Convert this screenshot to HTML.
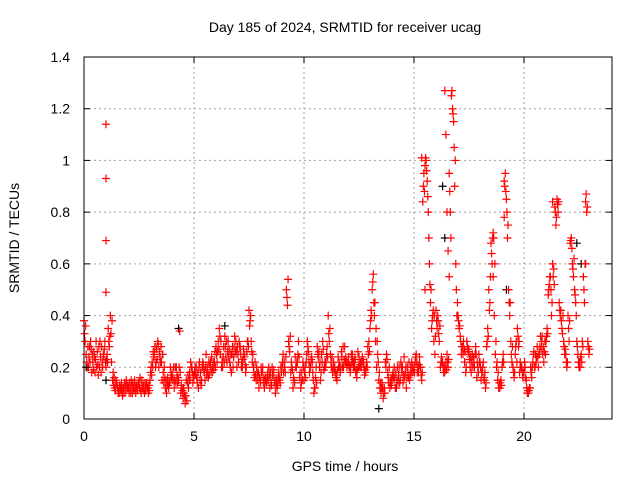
<!DOCTYPE html>
<html><head><meta charset="utf-8"><style>
body{margin:0;background:#fff;}
svg text{font-family:"Liberation Sans",sans-serif;font-size:14px;fill:#000;}
</style></head><body>
<svg id="chart" width="640" height="480" viewBox="0 0 640 480">
<rect width="640" height="480" fill="#fff"/>
<text x="345" y="32" text-anchor="middle">Day 185 of 2024, SRMTID for receiver ucag</text>
<text x="345" y="471" text-anchor="middle">GPS time / hours</text>
<text transform="translate(19,238) rotate(-90)" text-anchor="middle">SRMTID / TECUs</text>
<g id="grid"></g><g id="marks"></g><g id="axes"></g>
</svg>
<script>
const xTicks=[0,5,10,15,20];
const yTicks=[0,0.2,0.4,0.6,0.8,1,1.2,1.4];
const yTickLabels=["0","0.2","0.4","0.6","0.8","1","1.2","1.4"];
const seriesA=[0.38,0.25,0.2,0.3,0.22,0.18,0.26,0.2,0.28,0.24,
0.2,0.35,0.4,0.15,0.12,0.13,0.1,0.14,0.12,0.11,
0.13,0.12,0.1,0.15,0.12,0.14,0.1,0.13,0.11,0.12,
0.15,0.22,0.25,0.27,0.2,0.28,0.18,0.12,0.16,0.14,
0.18,0.12,0.2,0.15,0.1,0.08,0.06,0.14,0.18,0.2,
0.16,0.2,0.12,0.18,0.22,0.15,0.2,0.17,0.24,0.19,
0.28,0.3,0.25,0.2,0.32,0.22,0.27,0.18,0.24,0.3,
0.25,0.28,0.2,0.24,0.26,0.42,0.3,0.2,0.17,0.15,
0.16,0.18,0.12,0.14,0.2,0.15,0.17,0.1,0.13,0.16,
0.2,0.22,0.5,0.3,0.18,0.12,0.24,0.22,0.16,0.18,
0.15,0.22,0.26,0.2,0.18,0.12,0.28,0.2,0.25,0.19,
0.22,0.4,0.25,0.18,0.2,0.15,0.22,0.26,0.2,0.24,
0.22,0.18,0.25,0.2,0.16,0.24,0.2,0.22,0.18,0.28,
0.35,0.5,0.4,0.2,0.15,0.1,0.08,0.22,0.18,0.12,
0.15,0.2,0.12,0.17,0.22,0.14,0.18,0.2,0.15,0.22,
0.2,0.25,0.18,0.2,0.84,0.98,0.92,0.6,0.35,0.3,
0.42,0.38,0.2,0.22,0.18,0.25,0.95,1.25,1.15,0.6,
0.4,0.32,0.28,0.22,0.3,0.26,0.18,0.24,0.28,0.2,
0.22,0.18,0.15,0.28,0.5,0.68,0.72,0.25,0.15,0.12,
0.2,0.92,0.85,0.5,0.3,0.2,0.25,0.35,0.18,0.2,
0.18,0.15,0.1,0.2,0.22,0.2,0.28,0.25,0.3,0.22,
0.3,0.48,0.55,0.6,0.82,0.85,0.45,0.38,0.3,0.25,
0.4,0.68,0.6,0.5,0.3,0.2,0.25,0.55,0.84,0.3];
const seriesB=[0.3,0.2,0.28,0.18,0.26,0.3,0.17,0.24,0.2,0.3,
0.25,0.28,0.22,0.13,0.15,0.1,0.12,0.09,0.14,0.13,
0.1,0.15,0.12,0.1,0.13,0.16,0.12,0.1,0.14,0.13,
0.2,0.26,0.2,0.3,0.24,0.15,0.2,0.1,0.12,0.17,
0.15,0.2,0.14,0.34,0.12,0.1,0.15,0.12,0.22,0.14,
0.2,0.14,0.22,0.15,0.19,0.25,0.16,0.22,0.2,0.26,
0.22,0.35,0.2,0.28,0.24,0.3,0.2,0.28,0.32,0.2,
0.3,0.2,0.27,0.18,0.3,0.38,0.22,0.16,0.2,0.12,
0.2,0.14,0.16,0.18,0.12,0.2,0.14,0.15,0.18,0.2,
0.25,0.18,0.44,0.26,0.2,0.15,0.2,0.3,0.12,0.22,
0.2,0.3,0.18,0.24,0.1,0.2,0.24,0.15,0.3,0.22,
0.28,0.3,0.2,0.22,0.16,0.24,0.18,0.2,0.28,0.2,
0.2,0.25,0.2,0.18,0.26,0.2,0.24,0.17,0.22,0.3,
0.42,0.56,0.3,0.25,0.12,0.14,0.12,0.25,0.14,0.16,
0.18,0.12,0.2,0.14,0.18,0.24,0.12,0.16,0.2,0.18,
0.22,0.18,0.24,0.15,0.95,1.0,0.8,0.45,0.4,0.25,
0.35,0.3,0.24,0.18,0.22,0.2,0.8,1.2,0.9,0.4,
0.35,0.25,0.3,0.18,0.26,0.2,0.25,0.2,0.16,0.25,
0.15,0.22,0.12,0.35,0.45,0.6,0.4,0.2,0.12,0.15,
0.25,0.95,0.7,0.4,0.22,0.16,0.3,0.28,0.2,0.16,
0.2,0.1,0.12,0.16,0.26,0.22,0.2,0.32,0.25,0.3,
0.35,0.52,0.4,0.58,0.75,0.8,0.4,0.33,0.25,0.2,
0.3,0.7,0.55,0.45,0.25,0.2,0.3,0.45,0.8,0.25];
const seriesC=[0.33,0.22,0.24,0.27,0.19,0.23,0.21,0.3,0.22,0.27,
0.23,0.3,0.33,0.18,0.11,0.12,0.13,0.11,0.1,0.15,
0.12,0.1,0.14,0.12,0.11,0.12,0.15,0.11,0.13,0.1,
0.18,0.2,0.28,0.23,0.26,0.22,0.14,0.15,0.13,0.2,
0.16,0.15,0.17,0.2,0.13,0.12,0.09,0.17,0.15,0.18,
0.18,0.16,0.2,0.13,0.21,0.2,0.18,0.21,0.18,0.22,
0.25,0.27,0.3,0.24,0.28,0.26,0.22,0.25,0.28,0.26,
0.22,0.25,0.23,0.21,0.3,0.36,0.26,0.18,0.15,0.18,
0.14,0.2,0.15,0.16,0.17,0.13,0.19,0.13,0.16,0.14,
0.22,0.2,0.47,0.28,0.22,0.16,0.2,0.25,0.18,0.15,
0.18,0.25,0.22,0.23,0.15,0.16,0.25,0.22,0.22,0.2,
0.25,0.33,0.22,0.2,0.18,0.19,0.2,0.24,0.23,0.22,
0.24,0.2,0.22,0.23,0.19,0.21,0.22,0.2,0.2,0.25,
0.38,0.53,0.45,0.3,0.18,0.12,0.1,0.2,0.16,0.14,
0.17,0.16,0.15,0.2,0.2,0.17,0.2,0.18,0.17,0.2,
0.18,0.22,0.21,0.17,0.9,1.01,0.86,0.52,0.38,0.4,
0.38,0.33,0.22,0.2,0.2,0.22,0.88,1.27,1.05,0.5,
0.38,0.3,0.25,0.26,0.28,0.23,0.22,0.22,0.25,0.18,
0.2,0.2,0.18,0.3,0.42,0.64,0.7,0.3,0.18,0.14,
0.22,0.9,0.8,0.45,0.25,0.18,0.28,0.32,0.22,0.18,
0.22,0.12,0.11,0.18,0.25,0.25,0.24,0.28,0.32,0.26,
0.32,0.5,0.5,0.55,0.8,0.83,0.42,0.35,0.28,0.22,
0.35,0.69,0.58,0.48,0.28,0.22,0.22,0.5,0.87,0.28];
const seriesD=[0.36,0.28,0.22,0.25,0.24,0.2,0.28,0.18,0.25,0.22,
0.22,0.32,0.38,0.16,0.14,0.11,0.11,0.12,0.13,0.12,
0.14,0.13,0.11,0.13,0.14,0.11,0.12,0.14,0.12,0.11,
0.17,0.24,0.22,0.29,0.22,0.25,0.16,0.13,0.14,0.16,
0.2,0.14,0.16,0.18,0.11,0.09,0.07,0.15,0.2,0.17,
0.17,0.18,0.15,0.2,0.18,0.17,0.22,0.19,0.22,0.2,
0.26,0.32,0.22,0.22,0.3,0.24,0.25,0.2,0.26,0.28,
0.28,0.22,0.25,0.2,0.28,0.4,0.25,0.22,0.18,0.16,
0.18,0.16,0.14,0.15,0.18,0.17,0.15,0.12,0.15,0.18,
0.18,0.24,0.54,0.32,0.19,0.14,0.22,0.24,0.14,0.2,
0.16,0.28,0.2,0.22,0.12,0.14,0.26,0.18,0.27,0.2,
0.24,0.35,0.24,0.19,0.17,0.2,0.2,0.28,0.22,0.21,
0.21,0.22,0.23,0.19,0.2,0.22,0.23,0.19,0.2,0.26,
0.4,0.45,0.35,0.22,0.14,0.12,0.1,0.23,0.2,0.13,
0.16,0.18,0.14,0.15,0.2,0.16,0.16,0.22,0.18,0.19,
0.24,0.2,0.2,0.18,0.88,0.96,0.7,0.5,0.42,0.32,
0.4,0.36,0.22,0.2,0.19,0.23,0.7,1.18,1.0,0.45,
0.36,0.28,0.27,0.2,0.27,0.24,0.2,0.25,0.22,0.22,
0.18,0.16,0.14,0.32,0.55,0.7,0.6,0.22,0.14,0.13,
0.22,0.88,0.75,0.45,0.28,0.18,0.22,0.3,0.2,0.18,
0.16,0.11,0.12,0.2,0.2,0.24,0.25,0.27,0.28,0.25,
0.33,0.55,0.45,0.52,0.78,0.84,0.42,0.4,0.27,0.22,
0.38,0.66,0.62,0.4,0.22,0.24,0.28,0.6,0.82,0.27];
const spikeTimes=[1.0,1.0,1.0,1.0,16.4,16.45,16.5,19.1,15.35,21.3,16.55,16.6,15.5,18.6,22.8];
const spikeValues=[1.14,0.93,0.69,0.49,1.27,1.1,0.8,0.78,1.01,0.84,0.65,0.55,0.5,0.55,0.6];
const blackTimes=[0.1,1.0,4.3,6.4,13.4,16.3,16.4,22.4,22.6,19.2];
const blackValues=[0.2,0.15,0.35,0.36,0.04,0.9,0.7,0.68,0.6,0.5];
const X0=84,X1=612,Y0=419,Y1=57;
function xs(t){return X0+(t/24)*(X1-X0);}
function ys(v){return Y0-(v/1.4)*(Y0-Y1);}
const NS="http://www.w3.org/2000/svg";
function mk(tag,attrs,parent){const e=document.createElementNS(NS,tag);for(const k in attrs)e.setAttribute(k,attrs[k]);parent.appendChild(e);return e;}
const grid=document.getElementById('grid'),marks=document.getElementById('marks'),axes=document.getElementById('axes');
yTicks.forEach((v,i)=>{
 const y=ys(v);
 if(i>0&&i<yTicks.length-1){const g=mk('line',{x1:X0,x2:X1,y1:y,y2:y,stroke:'#a0a0a0','stroke-dasharray':'2,3'},grid);
 
 }
 mk('line',{x1:X0,x2:X0+6,y1:y,y2:y,stroke:'#000'},axes);
 mk('line',{x1:X1,x2:X1-6,y1:y,y2:y,stroke:'#000'},axes);
 const t=mk('text',{x:X0-14,y:y+5,'text-anchor':'end'},axes);t.textContent=yTickLabels[i];
 
 
});
xTicks.forEach(v=>{
 const x=xs(v);
 if(v>0){const g=mk('line',{x1:x,x2:x,y1:Y0,y2:Y1,stroke:'#a0a0a0','stroke-dasharray':'2,3'},grid);
 
 }
 mk('line',{x1:x,x2:x,y1:Y0,y2:Y0-6,stroke:'#000'},axes);
 mk('line',{x1:x,x2:x,y1:Y1,y2:Y1+6,stroke:'#000'},axes);
 const t=mk('text',{x:x,y:Y0+22,'text-anchor':'middle'},axes);t.textContent=String(v);
 
 
});
const frame=mk('rect',{x:X0,y:Y1,width:X1-X0,height:Y0-Y1,fill:'none',stroke:'#000'},axes);


function plus(t,v,color,name){
 const x=xs(t),y=ys(v);
 const p=mk('path',{d:`M${x-4},${y}h8M${x},${y-4}v8`,stroke:color,'stroke-width':1.2,fill:'none'},marks);
 
 
}
blackTimes.forEach((t,i)=>plus(t,blackValues[i],'#000','black-point'));
seriesA.forEach((v,i)=>plus(i*0.1,v,'#ff0000','srmtid-point'));
seriesC.forEach((v,i)=>plus(i*0.1+0.025,v,'#ff0000','srmtid-point'));
seriesB.forEach((v,i)=>plus(i*0.1+0.05,v,'#ff0000','srmtid-point'));
seriesD.forEach((v,i)=>plus(i*0.1+0.075,v,'#ff0000','srmtid-point'));
spikeTimes.forEach((t,i)=>plus(t,spikeValues[i],'#ff0000','srmtid-spike-point'));
</script>
</body></html>
